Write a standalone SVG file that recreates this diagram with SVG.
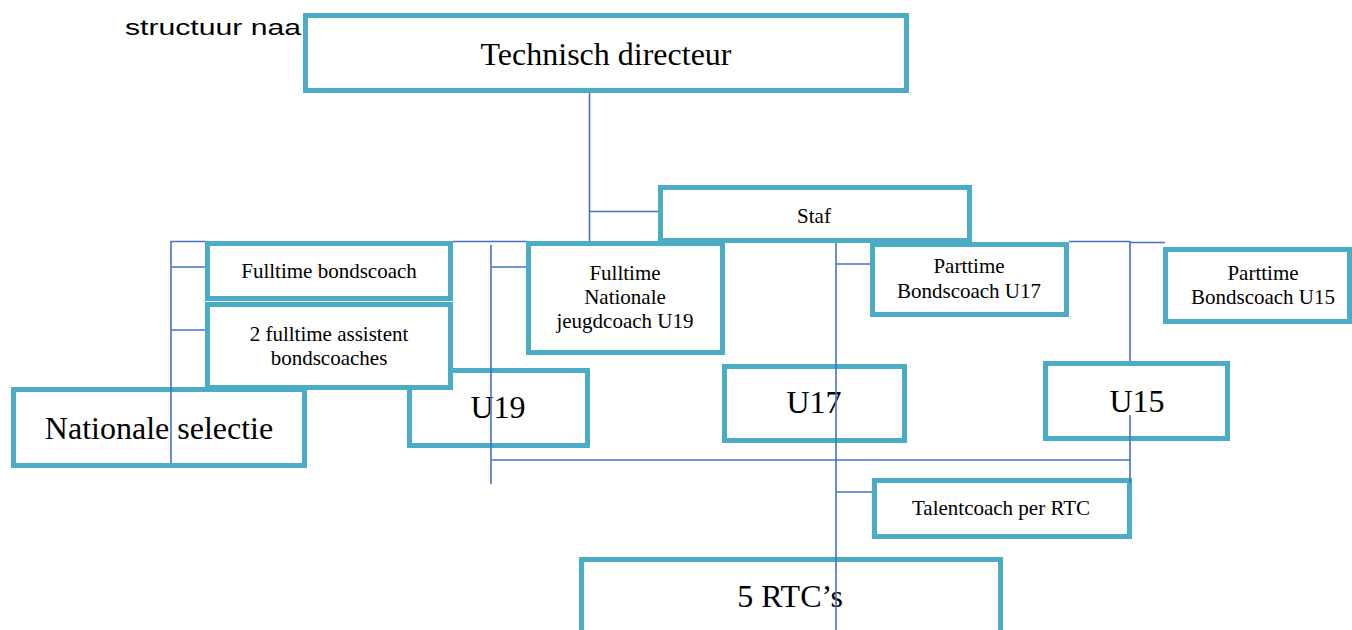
<svg xmlns="http://www.w3.org/2000/svg" width="1352" height="630" viewBox="0 0 1352 630">
<style>
.box{fill:#ffffff;stroke:#4BACC6;stroke-width:5}
.lbl{font-family:"Liberation Serif","Times New Roman",serif;fill:#000;text-anchor:middle}
.big{font-size:32px}
.sm{font-size:21px}
.ln{stroke:#4472C4;stroke-width:1.6;fill:none}
</style>
<rect width="1352" height="630" fill="#ffffff"/>
<text x="125" y="35" font-family="'Liberation Sans',Arial,sans-serif" font-size="22" textLength="176" lengthAdjust="spacingAndGlyphs" fill="#000">structuur naa</text>

<g id="n-nationale"><rect class="box" x="13.5" y="389.5" width="291" height="76"/><text class="lbl big" x="159" y="439">Nationale selectie</text></g>
<g id="n-u19"><rect class="box" x="409.5" y="370.5" width="178" height="75"/><text class="lbl big" x="498" y="418">U19</text></g>
<g id="n-td"><rect class="box" x="305.5" y="15.5" width="601" height="75"/><text class="lbl big" x="606" y="65">Technisch directeur</text></g>
<g id="n-staf"><rect class="box" x="660.5" y="187.5" width="309" height="53"/><text class="lbl sm" x="814" y="223">Staf</text></g>
<g id="n-fb"><rect class="box" x="207.5" y="243.5" width="243" height="55"/><text class="lbl sm" x="329" y="278">Fulltime bondscoach</text></g>
<g id="n-fa"><rect class="box" x="207.5" y="304.5" width="243" height="83"/><text class="lbl sm" x="329" y="341">2 fulltime assistent</text><text class="lbl sm" x="329" y="365">bondscoaches</text></g>
<g id="n-fn"><rect class="box" x="528.5" y="243.5" width="194" height="109"/><text class="lbl sm" x="625" y="280">Fulltime</text><text class="lbl sm" x="625" y="304">Nationale</text><text class="lbl sm" x="625" y="328">jeugdcoach U19</text></g>
<g id="n-pu17"><rect class="box" x="872.5" y="244.5" width="194" height="70"/><text class="lbl sm" x="969" y="273">Parttime</text><text class="lbl sm" x="969" y="298">Bondscoach U17</text></g>
<g id="n-pu15"><rect class="box" x="1165.5" y="249.5" width="184" height="72"/><text class="lbl sm" x="1263" y="280">Parttime</text><text class="lbl sm" x="1263" y="304">Bondscoach U15</text></g>
<g id="n-u17"><rect class="box" x="724.5" y="366.5" width="180" height="74"/><text class="lbl big" x="814" y="413">U17</text></g>
<g id="n-u15"><rect class="box" x="1045.5" y="363.5" width="182" height="75"/><text class="lbl big" x="1137" y="412">U15</text></g>
<g id="n-tc"><rect class="box" x="874.5" y="480.5" width="255" height="56"/><text class="lbl sm" x="1001" y="515">Talentcoach per RTC</text></g>
<g id="n-rtc"><rect class="box" x="581.5" y="559.5" width="419" height="80"/><text class="lbl big" x="790" y="607">5 RTC’s</text></g>

<g id="connectors" class="ln">
<line x1="589.5" y1="93" x2="589.5" y2="241"/>
<line x1="589.5" y1="211.5" x2="658" y2="211.5"/>
<line x1="171" y1="241.5" x2="205" y2="241.5"/>
<line x1="453" y1="241.5" x2="526" y2="241.5"/>
<line x1="1069" y1="241.5" x2="1130" y2="241.5"/>
<line x1="1130" y1="242.5" x2="1165" y2="242.5"/>
<line x1="171" y1="241" x2="171" y2="463"/>
<line x1="171" y1="267" x2="205" y2="267"/>
<line x1="171" y1="330" x2="205" y2="330"/>
<line x1="491" y1="245" x2="491" y2="484"/>
<line x1="491" y1="267" x2="526" y2="267"/>
<line x1="491" y1="460" x2="1130" y2="460"/>
<line x1="836" y1="243" x2="836" y2="630"/>
<line x1="836" y1="264" x2="870" y2="264"/>
<line x1="836" y1="492" x2="872" y2="492"/>
<line x1="1130" y1="241" x2="1130" y2="361"/>
<line x1="1130" y1="415" x2="1130" y2="483"/>
</g>
</svg>
